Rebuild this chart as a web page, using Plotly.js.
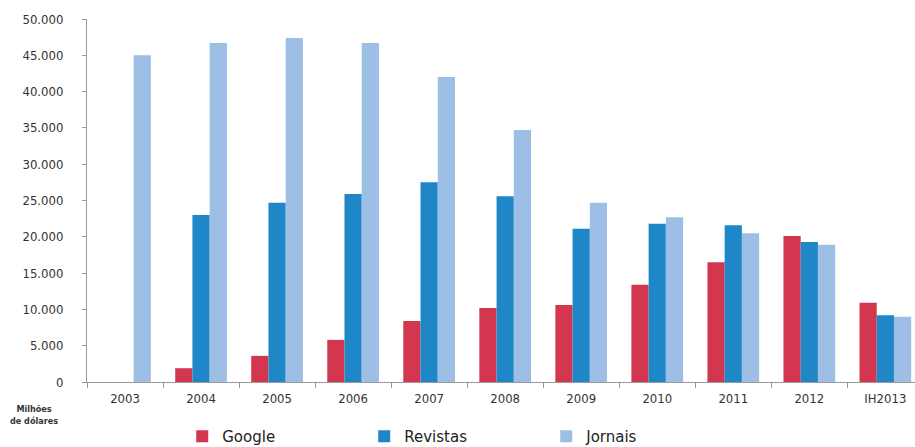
<!DOCTYPE html>
<html>
<head>
<meta charset="utf-8">
<script src="https://cdn.plot.ly/plotly-3.0.1.min.js"></script>
<style>html,body{margin:0;padding:0;background:#fff;}#chart{width:915px;height:447px;}</style>
</head>
<body>
<div id="chart"></div>
<script>
var categories = ["2003","2004","2005","2006","2007","2008","2009","2010","2011","2012","IH2013"];
var google   = [null, 1900, 3600, 5800, 8400, 10200, 10600, 13400, 16500, 20100, 10900];
var revistas = [null, 23000, 24700, 25900, 27500, 25600, 21100, 21800, 21600, 19300, 9200];
var jornais  = [45000, 46700, 47400, 46700, 42000, 34700, 24700, 22700, 20500, 18900, 9000];
var yTicks = [0,5000,10000,15000,20000,25000,30000,35000,40000,45000,50000];

var tickFont = {family: "Liberation Sans Narrow, DejaVu Sans Condensed, Arial Narrow, sans-serif", size: 13, color: "#333"};

var traces = [
  {type: "bar", name: "Google", x: categories, y: google, marker: {color: "#d3364f"}},
  {type: "bar", name: "Revistas", x: categories, y: revistas, marker: {color: "#1f86c7"}},
  {type: "bar", name: "Jornais", x: categories, y: jornais, marker: {color: "#9dbfe6"}}
];

var layout = {
  width: 915, height: 447,
  margin: {l: 87, r: 0, t: 19, b: 65, autoexpand: false},
  paper_bgcolor: "#fff", plot_bgcolor: "#fff",
  separators: ",.",
  barmode: "group",
  bargap: 0.32,
  bargroupgap: 0,
  showlegend: true,
  legend: {
    orientation: "h", x: 0.115, xanchor: "left", y: -0.105, yanchor: "top",
    font: {family: "DejaVu Sans, sans-serif", size: 15, color: "#222"},
    entrywidth: 137, entrywidthmode: "pixels", traceorder: "normal"
  },
  xaxis: {
    type: "category",
    range: [-0.5, 10.39],
    showline: true, linecolor: "#999", linewidth: 1,
    ticks: "outside", tickson: "boundaries", ticklen: 5, tickcolor: "#999",
    tickfont: tickFont, ticklabelstandoff: 4,
    showgrid: false, zeroline: false
  },
  yaxis: {
    range: [0, 50000],
    tickvals: yTicks, tickformat: ",d",
    showline: true, linecolor: "#999", linewidth: 1,
    ticks: "outside", ticklen: 4, tickcolor: "#999",
    tickfont: tickFont, ticklabelstandoff: 16,
    showgrid: false, zeroline: false
  },
  annotations: [
    {text: "<b>Milhões<br>de dólares</b>", xref: "paper", yref: "paper", x: -0.095, y: -0.055,
     xanchor: "left", yanchor: "top", align: "center", showarrow: false,
     font: {family: "Liberation Sans Narrow, DejaVu Sans Condensed, sans-serif", size: 9, color: "#333"}}
  ]
};

Plotly.newPlot("chart", traces, layout, {displayModeBar: false, staticPlot: true});
</script>
</body>
</html>
